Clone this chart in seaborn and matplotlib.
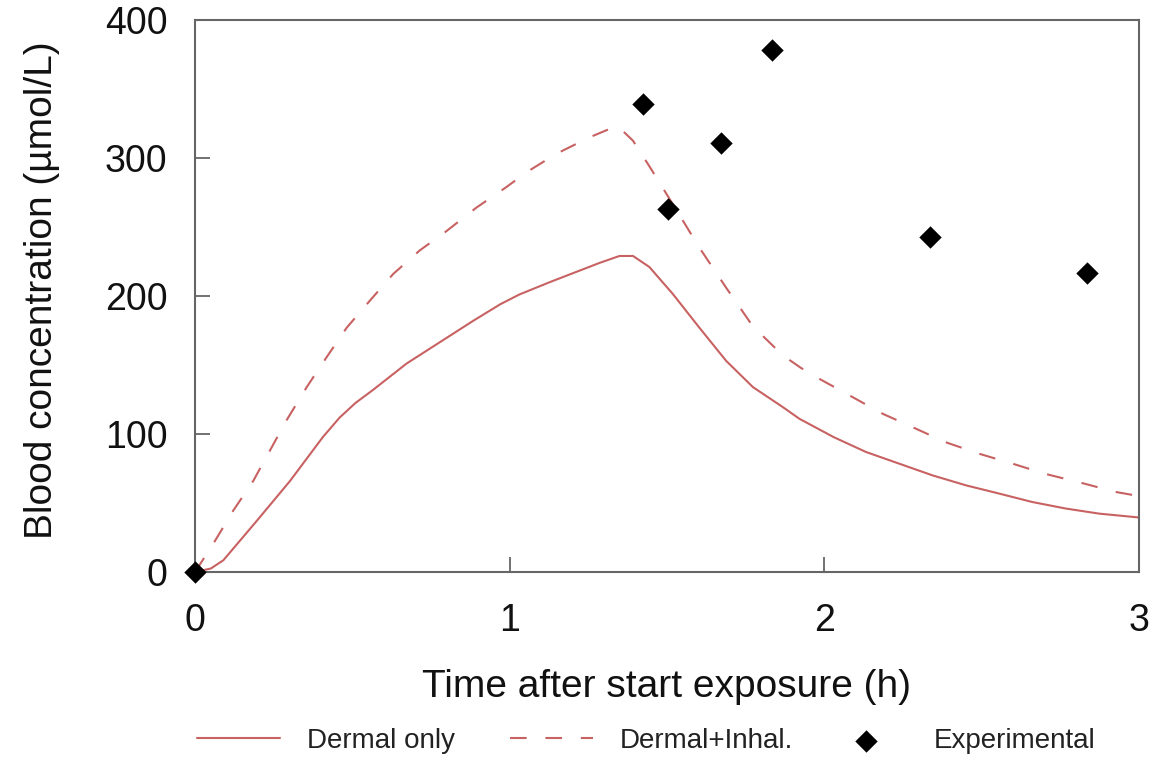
import matplotlib
matplotlib.use("Agg")
import matplotlib.pyplot as plt
import seaborn as sns
import pandas as pd

# Simulated blood concentration, dermal exposure only
dermal_t = [0, 0.05, 0.09, 0.196, 0.302, 0.407, 0.46, 0.51, 0.566, 0.672, 0.778,
            0.884, 0.97, 1.03, 1.127, 1.286, 1.349, 1.392, 1.444, 1.518, 1.603,
            1.688, 1.773, 1.868, 1.921, 2.03, 2.132, 2.238, 2.344, 2.45, 2.556,
            2.661, 2.767, 2.873, 3.0]
dermal_v = [0, 2.5, 8.5, 37, 66, 98, 112, 122.5, 132, 151, 166.5,
            182, 194, 201, 210, 224, 229, 229, 221, 201.6, 177,
            153, 134, 119.5, 111, 97.7, 87, 78.5, 70, 62.8, 56.8,
            50.7, 46, 42.3, 39.5]

# Simulated blood concentration, dermal plus inhalation exposure
combined_t = [0, 0.058, 0.122, 0.185, 0.238, 0.291, 0.355, 0.418, 0.482, 0.556,
              0.63, 0.714, 0.799, 0.894, 0.99, 1.053, 1.148, 1.254, 1.317, 1.344,
              1.392, 1.444, 1.518, 1.603, 1.688, 1.773, 1.868, 1.925, 1.984, 2.09,
              2.185, 2.28, 2.386, 2.492, 2.598, 2.704, 2.81, 2.926, 3.0]
combined_v = [0, 20.5, 44.7, 66, 88, 110, 134, 155.6, 177, 196.7,
              216, 233, 247, 264, 279, 289.6, 303, 315, 321, 323,
              312.5, 294, 266.7, 235, 206, 178, 157, 148, 140, 126.7,
              114.7, 105, 94, 85.7, 78.5, 71, 65, 58, 55]

# Measured values
exp_t = [0, 1.423, 1.502, 1.672, 1.833, 2.336, 2.834]
exp_v = [0, 339, 263, 311, 378, 243, 217]

legend_labels = ["Dermal only", "Dermal+Inhal.", "Experimental"]
x_ticks = [0, 1, 2, 3]
y_ticks = [0, 100, 200, 300, 400]

sns.set_style("white")
plt.rcParams["font.family"] = ["Liberation Sans", "DejaVu Sans"]

line_color = "#c86262"
spine_color = "#666666"

df_dermal = pd.DataFrame({"t": dermal_t, "c": dermal_v})
df_comb = pd.DataFrame({"t": combined_t, "c": combined_v})
df_exp = pd.DataFrame({"t": exp_t, "c": exp_v})

fig = plt.figure(figsize=(11.5, 7.57), dpi=100)
ax = fig.add_axes([0.1696, 0.2444, 0.8208, 0.7292])

sns.lineplot(data=df_dermal, x="t", y="c", ax=ax, color=line_color,
             linewidth=1.5, sort=False, estimator=None)
h_dermal = ax.lines[-1]
sns.lineplot(data=df_comb, x="t", y="c", ax=ax, color=line_color,
             linewidth=1.5, linestyle=(0, (8, 9)), sort=False, estimator=None)
h_comb = ax.lines[-1]
sns.scatterplot(data=df_exp, x="t", y="c", ax=ax, marker="D", s=130,
                color="black", linewidth=0, clip_on=False, zorder=5)
h_exp = ax.collections[-1]

ax.set_xlim(0, 3)
ax.set_ylim(0, 400)
ax.set_xticks(x_ticks)
ax.set_yticks(y_ticks)
ax.set_xticklabels([str(v) for v in x_ticks])
ax.set_yticklabels([str(v) for v in y_ticks])

for side in ["left", "right", "top", "bottom"]:
    ax.spines[side].set_visible(True)
    ax.spines[side].set_color(spine_color)
    ax.spines[side].set_linewidth(1.5)

ax.tick_params(axis="both", which="major", direction="in", length=11,
               width=1.3, color=spine_color, labelsize=27,
               labelcolor="#111111", bottom=True, left=True,
               top=False, right=False)
ax.tick_params(axis="x", pad=22)
ax.tick_params(axis="y", pad=20)

ax.set_xlabel("Time after start exposure (h)", fontsize=28, color="#111111")
ax.set_ylabel("Blood concentration (µmol/L)", fontsize=28, color="#111111")
ax.xaxis.set_label_coords(0.5, -0.175)
ax.yaxis.set_label_coords(-0.143, 0.511)

# One legend entry per slot along the bottom of the figure
legend_x = [0.1713, 0.4435, 0.7165]
for handle, label, x0 in zip([h_dermal, h_comb, h_exp], legend_labels, legend_x):
    fig.legend(handles=[handle], labels=[label], loc="center left",
               bbox_to_anchor=(x0, 0.021), frameon=False, fontsize=20,
               handlelength=3.0, handletextpad=0.95, borderpad=0,
               borderaxespad=0, labelcolor="#222222")

fig.savefig("out.png", dpi=100, facecolor="white")
